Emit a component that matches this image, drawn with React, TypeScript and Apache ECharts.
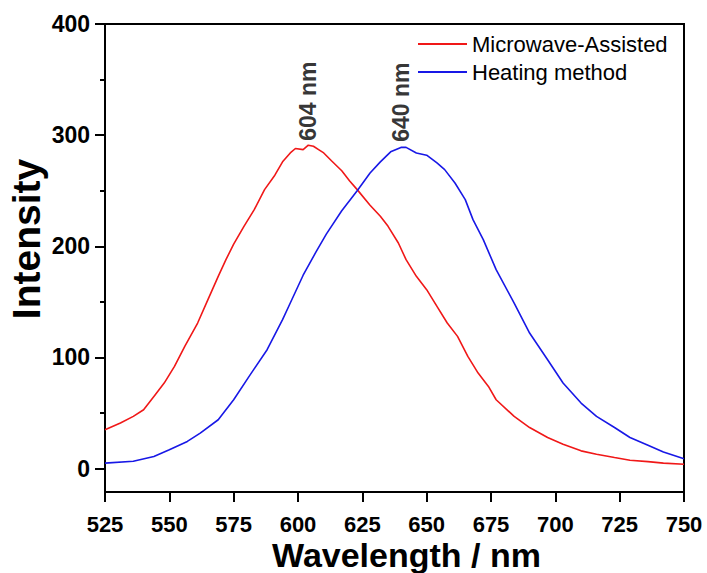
import React, { useEffect, useRef } from "react";
import * as echarts from "echarts";

// Microwave-Assisted (red) spectrum
const redWavelength = [525, 531, 536, 540, 544, 548, 552, 556, 561, 565, 569, 572, 575, 579, 583, 587, 591, 594, 597, 599, 602, 604, 606, 608, 610, 613, 617, 620, 623, 628, 632, 635, 639, 642, 646, 650, 654, 658, 662, 666, 670, 674, 677, 684, 690, 697, 703, 710, 716, 723, 729, 736, 742, 750];
const redIntensity = [35, 41, 47, 53, 65, 77, 92, 110, 131, 152, 173, 188, 202, 218, 233, 251, 264, 276, 284, 288, 287, 291, 290, 287, 284, 277, 268, 259, 251, 237, 227, 218, 203, 188, 173, 161, 146, 131, 119, 101, 86, 74, 62, 47, 37, 28, 22, 16, 13, 10, 7.5, 6.3, 5, 4];

// Heating method (blue) spectrum
const blueWavelength = [525, 536, 544, 550, 557, 562, 569, 575, 581, 588, 594, 597, 602, 607, 611, 617, 623, 628, 632, 636, 640, 642, 646, 650, 654, 657, 661, 665, 668, 672, 677, 684, 690, 697, 703, 710, 716, 723, 729, 736, 742, 750];
const blueIntensity = [5, 6.6, 11, 17, 24.5, 32, 44, 62, 83, 107, 134, 149, 174, 195, 211, 232, 250, 266, 276, 285, 289, 289, 284, 282, 275, 269, 257, 242, 224, 206, 179, 149, 122, 98, 77, 59, 47, 37, 28, 21, 15, 9];

const seriesNames = ["Microwave-Assisted", "Heating method"];
const peakWavelengths = [604, 640];
const peakLabelBase = [295, 294];
const peakLabels = ["604 nm", "640 nm"];

const xTicks = [525, 550, 575, 600, 625, 650, 675, 700, 725, 750];
const yMajorTicks = [0, 100, 200, 300, 400];
const yMinorTicks = [50, 150, 250, 350];

const FONT = "'Liberation Sans', Arial, sans-serif";

export default function App() {
  const ref = useRef<HTMLDivElement>(null);
  useEffect(() => {
    if (!ref.current) return;
    const chart = echarts.init(ref.current, null, { renderer: "svg" });
    const red = redWavelength.map((w, i) => [w, redIntensity[i]]);
    const blue = blueWavelength.map((w, i) => [w, blueIntensity[i]]);
    const peaks = peakWavelengths.map((w, i) => ({ value: [w, peakLabelBase[i]], label: { formatter: peakLabels[i] } }));
    chart.setOption({
      animation: false,
      backgroundColor: "#fff",
      textStyle: { fontFamily: FONT },
      grid: {
        left: 105, right: 23, top: 24, bottom: 81,
        outerBoundsMode: "none",
        containLabel: false,
        show: true, borderColor: "#000", borderWidth: 2, backgroundColor: "transparent",
      },
      legend: {
        data: seriesNames,
        orient: "vertical",
        left: 418,
        top: 33,
        padding: 0,
        itemWidth: 49,
        itemHeight: 2,
        itemGap: 6,
        icon: "rect",
        textStyle: { fontFamily: FONT, fontSize: 22, color: "#000", lineHeight: 22 },
      },
      xAxis: {
        type: "value",
        min: 525,
        max: 750,
        interval: 25,
        axisLine: { show: true, onZero: false, lineStyle: { color: "#000", width: 2 } },
        axisTick: { show: true, inside: false, length: 10, lineStyle: { color: "#000", width: 2 } },
        axisLabel: { fontFamily: FONT, fontSize: 22, lineHeight: 20, fontWeight: "bold", color: "#000", margin: 22, customValues: xTicks },
        splitLine: { show: false },
        name: "Wavelength / nm",
        nameLocation: "middle",
        nameMoveOverlap: false,
        nameGap: 46,
        nameTextStyle: { fontFamily: FONT, fontSize: 34, lineHeight: 34, fontWeight: "bold", color: "#000", padding: [0, 0, 0, 24] },
      },
      yAxis: [
        {
          type: "value",
          min: -21,
          max: 400,
          position: "left",
          axisLine: { show: true, onZero: false, lineStyle: { color: "#000", width: 2 } },
          axisTick: { show: true, inside: false, length: 10, lineStyle: { color: "#000", width: 2 }, customValues: yMajorTicks },
          axisLabel: { fontFamily: FONT, fontSize: 23, fontWeight: "bold", color: "#000", margin: 15, customValues: yMajorTicks },
          splitLine: { show: false },
          name: "Intensity",
          nameLocation: "middle",
          nameMoveOverlap: false,
          nameGap: 59,
          nameTextStyle: { fontFamily: FONT, fontSize: 39, fontWeight: "bold", color: "#000", padding: [0, 0, 0, 38] },
        },
        {
          type: "value",
          min: -21,
          max: 400,
          position: "left",
          offset: 0,
          axisLine: { show: false, onZero: false },
          axisTick: { show: true, inside: false, length: 5, lineStyle: { color: "#000", width: 2 }, customValues: yMinorTicks },
          axisLabel: { show: false },
          splitLine: { show: false },
        },
      ],
      series: [
        {
          name: seriesNames[0],
          type: "line",
          data: red,
          showSymbol: false,
          symbol: "none",
          lineStyle: { color: "#f01818", width: 1.6 },
          itemStyle: { color: "#f01818" },
        },
        {
          name: seriesNames[1],
          type: "line",
          data: blue,
          showSymbol: false,
          symbol: "none",
          lineStyle: { color: "#1818e6", width: 1.6 },
          itemStyle: { color: "#1818e6" },
        },
        {
          name: "peaks",
          type: "scatter",
          data: peaks,
          symbolSize: 0,
          silent: true,
          label: {
            show: true,
            position: "inside",
            rotate: 90,
            align: "left",
            verticalAlign: "middle",
            fontFamily: FONT,
            fontSize: 23,
            fontWeight: "bold",
            color: "#000",
            textBorderWidth: 0,
          },
        },
      ],
    });
    return () => chart.dispose();
  }, []);
  return <div ref={ref} style={{ position: "fixed", left: 0, top: 0, width: 707, height: 573 }} />;
}
